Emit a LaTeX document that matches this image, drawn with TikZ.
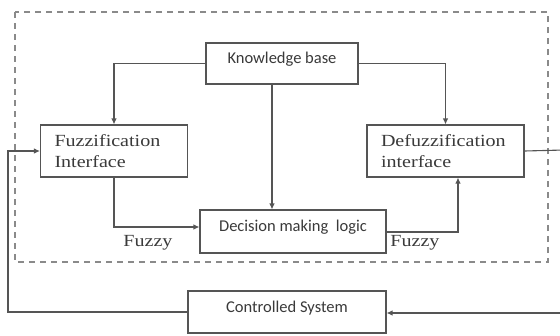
\documentclass[tikz,border=0pt]{standalone}
\usepackage{fontspec}
\setmainfont{Liberation Serif}[FakeStretch=1.18]
\setsansfont{Carlito}
\usetikzlibrary{arrows.meta}
\definecolor{cInk}{HTML}{3A3A3A}
\definecolor{cLine}{HTML}{555555}
\definecolor{cFrame}{HTML}{8A8A8A}

\begin{document}
\begin{tikzpicture}[x=1pt,y=-1pt,
      box/.style={draw=cLine,line width=1.1pt,fill=white,inner sep=0pt,
                  text=cInk,font=\sffamily\fontsize{16.5}{20}\selectfont,
                  text height=9pt,text depth=9pt},
      sbox/.style={draw=cLine,line width=1.1pt,fill=white,inner xsep=14pt,
                  text=cInk,align=left,font=\rmfamily\fontsize{17}{20.5}\selectfont},
      arr/.style={-{Latex[length=6pt,width=5.5pt]},cLine,line width=1.1pt},
      lab/.style={text=cInk,font=\rmfamily\fontsize{17}{20}\selectfont,inner sep=0pt}]
    \useasboundingbox (0,0) rectangle (560,335);
    % controller frame
    \draw[cFrame,line width=1.1pt,dash pattern=on 6pt off 5pt] (15,12) rectangle (548,262);
    % blocks
    \node[box,minimum width=152pt,minimum height=41pt] (kb) at (282,63.5) {Knowledge base};
    \node[sbox,text width=119pt,minimum height=52pt] (fz) at (114,151) {Fuzzification\\Interface};
    \node[sbox,text width=129pt,minimum height=52pt] (dfz) at (445.5,151) {Defuzzification\\interface};
    \node[box,minimum width=186pt,minimum height=43pt] (dml) at (293,231.5) {Decision making\ \ logic};
    \node[box,minimum width=198pt,minimum height=42pt] (cs) at (287,312) {Controlled System};
    \coordinate (rt) at (564,150);
    \coordinate (rb) at (564,313);
    % rule base links
    \draw[arr] (kb.west) -| (fz.north);
    \draw[arr] (kb.east) -| (dfz.north);
    \draw[arr] (kb.south -| 272,0) -- (dml.north -| 272,0);
    % inference path
    \draw[arr] (fz.south) |- (dml.west |- 0,227);
    \draw[arr] (dml.east |- 0,232) -| (dfz.south -| 458,0);
    \node[lab] (fy1) at (148,243) {Fuzzy};
    \node[lab] (fy2) at (415,243) {Fuzzy};
    % plant loop
    \draw[cLine,line width=1.1pt] (dfz.east) -- (rt) -- (rb);
    \draw[arr] (rb) -- (cs.east |- rb);
    \draw[arr] (cs.west) -- (8,312) |- (fz.west);
  \end{tikzpicture}
\end{document}
